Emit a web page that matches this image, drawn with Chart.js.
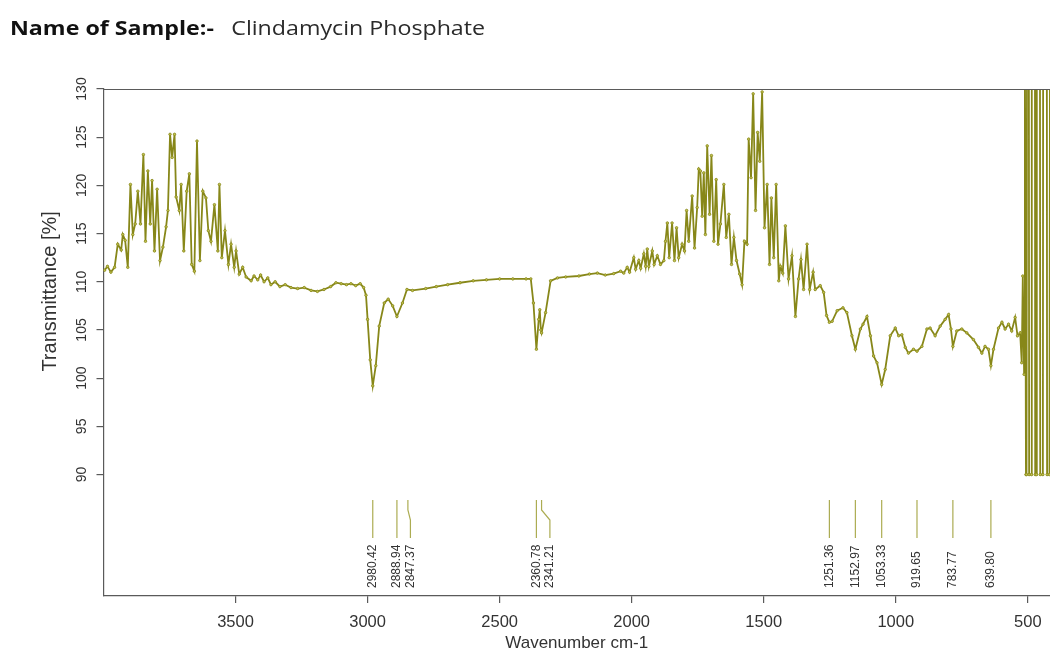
<!DOCTYPE html>
<html><head><meta charset="utf-8">
<script src="https://cdn.jsdelivr.net/npm/chart.js@4.4.1/dist/chart.umd.min.js"></script>
<style>
html,body{margin:0;padding:0;background:#fff;overflow:hidden}
#wrap{position:relative;width:1050px;height:656px}
#title{position:absolute;left:10px;top:16px;font-family:"Open Sans",sans-serif;font-size:20px;line-height:24px;color:#111;white-space:nowrap;transform:scaleX(1.16);transform-origin:0 0}
#title b{font-weight:700}
#title span{color:#2a2a2a;margin-left:15px}
canvas{position:absolute;left:0;top:0}
</style></head><body>
<div id="wrap"><canvas id="c" width="1050" height="656"></canvas>
<div id="title"><b>Name of Sample:-</b><span>Clindamycin Phosphate</span></div></div>
<script>
const wavenumbers = [
3996,3985,3972,3958,3946,3933,3927,3918,3908,3898,3889,3880,3870,3860,3849,3841,3832,3823,3816,3807,
3797,3786,3775,3763,3756,3748,3740,3731,3725,3713,3706,3696,3685,3675,3666,3656,3646,3635,3624,3612,
3603,3593,3580,3567,3561,3552,3540,3527,3517,3505,3498,3486,3473,3460,3441,
3430,3416,3405,3392,3378,3366,3350,3332,3312,3290,3265,3240,3214,3190,3165,3140,3120,3100,3080,3063,
3045,3028,3015,3006,3000,2990,2980.42,2969,2956,2937,2922,2905,2888.94,2868,2851,2830,2780,2740,2697,
2650,2600,2550,2500,2450,2400,2382,2372,2360.78,2352,2348,2344,2341.21,2326,2307,2281,2250,2200,2160,
2130,2100,2068,2042,2030,2017,2008,1992,1985,1973,1966,1954,1947,1941,1935,1922,1915,1903,1891,1878,
1872,1865,1858,1847,1838,1830,1822,1809,1800,1792,1784,1771,1762,1752,1746,1740,1733,1727,1721,1714,
1705,1698,1689,1680,1673,1664,1651,1642,1632,1622,1613,1603,1591,1582,1573,1563,1557,1548,1540,1531,
1523,1515,1506,1497,1487,1478,1471,1462,1453,1443,1437,1428,1418,1406,1393,1380,1368,1359,1349,1336,
1326,1313,1305,1286,1273,1262,1251.36,1241,1222,1200,1185,1166,1152.97,1134,1124,1109,1096,1084,1071,1053.33,
1040,1021,1002,989,977,964,952,933,919.65,901,882,870,851,832,813,800,791,783.77,769,750,
731,706,687,674,662,649,639.80,630,611,598,586,573,561,548,539,529,523,519,514,
511,507,505,503,496,495,486,485,473,472,467,466,454,453,443,442,428,427,418,416
];
const transmittance = [
111.2,111.6,111.0,111.5,113.9,113.3,114.9,114.3,111.5,120.1,114.9,116.0,119.4,116.0,123.2,114.2,121.5,116.0,120.5,113.2,
119.6,112.2,113.6,115.7,117.4,125.3,122.9,125.3,118.8,117.4,120.1,113.2,119.4,121.2,111.8,111.1,124.6,112.2,119.4,118.7,
115.3,114.2,118.0,113.2,120.1,112.5,115.3,111.8,113.9,111.5,113.2,110.8,111.5,110.5,110.1,
110.6,110.2,110.7,110.0,110.4,109.7,110.0,109.5,109.7,109.4,109.3,109.4,109.1,109.0,109.2,109.5,109.9,109.8,109.7,109.8,
109.6,109.8,109.4,108.6,106.1,101.9,99.2,101.3,105.4,107.8,108.2,107.5,106.4,107.8,109.2,109.1,109.3,109.5,109.7,
109.9,110.1,110.2,110.3,110.3,110.3,110.3,107.8,103.0,106.1,107.1,105.0,104.7,106.8,110.1,110.4,110.5,110.6,110.8,
110.9,110.7,110.85,111.1,110.9,111.5,111.0,112.5,111.3,112.2,111.4,112.9,111.6,113.4,111.6,113.2,111.8,112.7,111.8,112.2,
114.2,116.1,112.5,116.1,112.2,115.6,112.5,113.9,113.2,117.4,114.2,118.9,113.5,117.7,121.7,121.5,116.8,121.3,114.9,124.1,
117.0,123.1,114.2,120.6,113.9,116.0,120.1,114.6,117.0,111.8,114.6,112.2,110.8,109.7,114.2,113.9,124.8,120.8,129.5,117.4,
125.5,122.5,129.7,115.6,120.1,111.8,118.7,112.5,120.1,110.1,111.6,110.9,115.8,110.3,112.7,106.4,110.3,112.3,109.2,113.9,
109.2,111.0,109.2,109.6,108.9,106.5,105.8,105.9,107.0,107.3,106.8,104.4,103.0,105.1,105.6,106.4,104.4,102.3,101.6,99.35,
100.9,104.4,105.2,104.4,104.5,103.2,102.6,103.0,102.8,103.3,105.1,105.2,104.4,105.4,106.1,106.6,105.1,103.3,104.9,105.1,
104.7,104.0,103.2,102.6,103.3,103.0,101.3,103.0,105.2,105.8,105.1,105.6,104.9,106.3,104.4,104.7,101.6,110.6,100.4,
135,90,90,135,135,90,90,135,135,90,90,135,135,90,90,135,135,90,90,135
];
const peakPositions = [2980.42,2888.94,2847.37,2360.78,2341.21,1251.36,1152.97,1053.33,919.65,783.77,639.80];
const peakLabels = ['2980.42','2888.94','2847.37','2360.78','2341.21','1251.36','1152.97','1053.33','919.65','783.77','639.80'];
const xTickValues = [3500,3000,2500,2000,1500,1000,500];
const yTickValues = [90,95,100,105,110,115,120,125,130];
const xTitle = 'Wavenumber cm-1';
const yTitle = 'Transmittance [%]';

const axisColor = '#5a5a5a';
const lineColor = 'rgb(135,135,25)';
const FONT = '"Liberation Sans", Arial, sans-serif';

const peakPlugin = {
  id: 'peaks',
  afterDatasetsDraw(chart) {
    const {ctx, chartArea, scales} = chart;
    const x = scales.x, y = scales.y;
    ctx.save();
    ctx.strokeStyle = axisColor; ctx.lineWidth = 1.2;
    ctx.beginPath(); ctx.moveTo(chartArea.left, chartArea.top + 0.5); ctx.lineTo(chartArea.right, chartArea.top + 0.5); ctx.stroke();
    ctx.fillStyle = '#333';
    ctx.font = '20px ' + FONT;
    ctx.textAlign = 'center'; ctx.textBaseline = 'middle';
    ctx.save(); ctx.translate(50, y.getPixelForValue(109)); ctx.rotate(-Math.PI / 2); ctx.fillText(yTitle, 0, 0); ctx.restore();
    const top = y.getPixelForValue(87.36), bottom = y.getPixelForValue(83.42), base = y.getPixelForValue(78.23);
    const px = peakPositions.map(p => x.getPixelForValue(p));
    const lx = [];
    const minGap = 13.5;
    px.forEach((p, i) => { let v = p; if (i > 0 && v - lx[i-1] < minGap) v = lx[i-1] + minGap; lx.push(v); });
    ctx.strokeStyle = 'rgb(172,172,82)'; ctx.lineWidth = 1.2;
    px.forEach((p, i) => {
      ctx.beginPath();
      ctx.moveTo(p, top);
      if (Math.abs(lx[i] - p) > 0.5) { ctx.lineTo(p, top + 10); ctx.lineTo(lx[i], top + 20); }
      ctx.lineTo(lx[i], bottom);
      ctx.stroke();
    });
    ctx.font = '12px ' + FONT;
    ctx.textAlign = 'left';
    lx.forEach((p, i) => {
      ctx.save(); ctx.translate(p, base); ctx.rotate(-Math.PI / 2);
      ctx.fillText(peakLabels[i], 0, 0); ctx.restore();
    });
    ctx.restore();
  }
};

new Chart(document.getElementById('c'), {
  type: 'line',
  data: {
    datasets: [{
      data: wavenumbers.map((w, i) => ({x: w, y: transmittance[i]})),
      borderColor: lineColor,
      borderWidth: 1.8,
      pointRadius: 1.25,
      pointBorderWidth: 0.8,
      pointBackgroundColor: 'rgb(195,195,80)',
      pointBorderColor: lineColor,
      tension: 0
    }]
  },
  options: {
    responsive: false,
    animation: false,
    devicePixelRatio: 1,
    layout: {autoPadding: false, padding: {top: 89, left: 0, right: 0, bottom: 0}},
    plugins: {legend: {display: false}, tooltip: {enabled: false}},
    scales: {
      x: {
        type: 'linear', reverse: true, min: 416, max: 4000,
        afterBuildTicks: s => { s.ticks = xTickValues.map(v => ({value: v})); },
        afterFit: s => { s.height = 60; s.paddingLeft = 0; s.paddingRight = 0; },
        grid: {drawOnChartArea: false, drawTicks: true, tickLength: 7, color: axisColor, tickColor: axisColor, lineWidth: 1.2},
        border: {display: true, color: axisColor, width: 1.2},
        ticks: {color: '#333', font: {family: FONT, size: 16.5}, maxRotation: 0, padding: 10, callback: v => String(v)},
        title: {display: true, text: xTitle, color: '#333', font: {family: FONT, size: 17}, padding: {top: 0, bottom: 2}}
      },
      y: {
        type: 'linear', min: 77.4, max: 130,
        afterBuildTicks: s => { s.ticks = yTickValues.map(v => ({value: v})); },
        afterFit: s => { s.width = 103.5; s.paddingTop = 0; s.paddingBottom = 0; },
        grid: {drawOnChartArea: false, drawTicks: true, tickLength: 7, color: axisColor, tickColor: axisColor, lineWidth: 1.2},
        border: {display: true, color: axisColor, width: 1.2},
        ticks: {color: '#333', font: {family: FONT, size: 14}, minRotation: 90, maxRotation: 90, crossAlign: 'center', padding: 3, callback: v => String(v)},
        title: {display: false}
      }
    }
  },
  plugins: [peakPlugin]
});
</script>
</body></html>
